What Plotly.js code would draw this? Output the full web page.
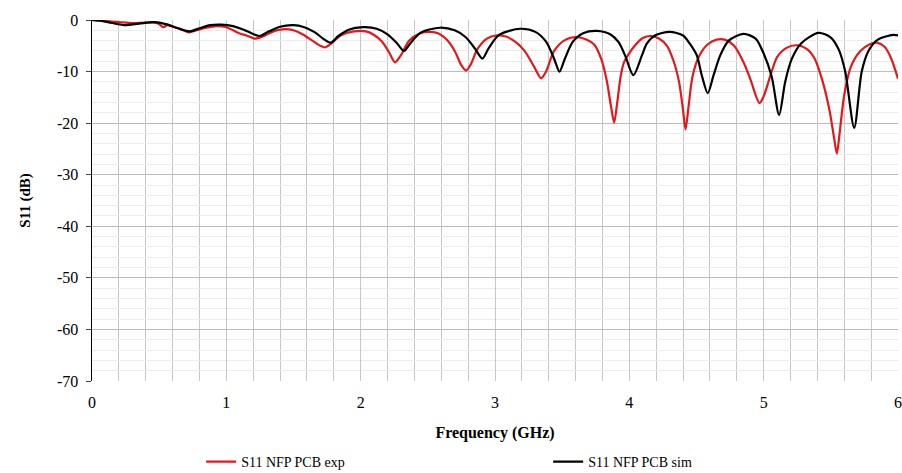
<!DOCTYPE html>
<html>
<head>
<meta charset="utf-8">
<script src="https://cdn.plot.ly/plotly-3.0.1.min.js"></script>
<style>html,body{margin:0;padding:0;background:#fff;}#chart{width:902px;height:473px;}</style>
</head>
<body>
<div id="chart"></div>
<script>
const expFreq = [0.00,0.10,0.20,0.30,0.40,0.47,0.50,0.53,0.56,0.62,0.68,0.72,0.78,0.85,0.93,1.00,1.05,1.10,1.15,1.21,1.27,1.35,1.42,1.50,1.57,1.64,1.70,1.735,1.78,1.85,1.95,2.04,2.10,2.16,2.21,2.256,2.30,2.36,2.44,2.52,2.58,2.64,2.70,2.75,2.785,2.82,2.87,2.94,3.01,3.08,3.15,3.22,3.29,3.343,3.38,3.44,3.52,3.61,3.68,3.74,3.79,3.83,3.862,3.887,3.91,3.935,3.96,3.99,4.04,4.10,4.16,4.22,4.28,4.33,4.37,4.40,4.418,4.44,4.47,4.52,4.58,4.65,4.72,4.78,4.85,4.90,4.969,5.00,5.05,5.10,5.17,5.247,5.32,5.38,5.44,5.49,5.525,5.545,5.565,5.60,5.65,5.72,5.79,5.843,5.90,5.95,6.00];
const expS11 = [0.0,-0.2,-0.4,-0.6,-0.5,-0.5,-0.8,-1.4,-1.0,-1.4,-2.0,-2.4,-2.0,-1.5,-1.2,-1.4,-2.0,-2.6,-3.0,-3.6,-3.2,-2.2,-1.8,-2.0,-2.8,-4.0,-5.0,-5.3,-4.6,-3.0,-2.2,-2.2,-2.9,-4.2,-6.2,-8.2,-6.8,-4.0,-2.6,-2.3,-2.6,-3.8,-6.0,-8.8,-9.8,-8.6,-5.6,-3.6,-3.0,-3.2,-4.2,-6.0,-9.0,-11.3,-10.0,-6.0,-3.9,-3.3,-3.8,-4.8,-7.5,-11.5,-16.5,-19.9,-16.0,-11.0,-8.2,-6.8,-5.0,-3.5,-3.1,-3.6,-5.0,-8.0,-12.0,-17.5,-21.2,-17.0,-11.0,-7.0,-4.8,-3.8,-3.9,-5.0,-8.2,-11.4,-16.1,-14.8,-10.8,-7.2,-5.4,-4.9,-5.6,-7.5,-12.0,-17.5,-23.0,-25.9,-22.0,-14.5,-9.0,-6.0,-4.7,-4.4,-5.2,-7.5,-11.4];

const simFreq = [0.00,0.10,0.243,0.35,0.467,0.55,0.64,0.727,0.80,0.88,0.963,1.05,1.12,1.19,1.249,1.31,1.40,1.50,1.58,1.66,1.72,1.777,1.83,1.91,2.02,2.12,2.20,2.27,2.323,2.37,2.45,2.59,2.70,2.78,2.85,2.906,2.95,3.03,3.187,3.30,3.38,3.44,3.48,3.52,3.58,3.66,3.758,3.86,3.92,3.969,4.03,4.093,4.13,4.19,4.30,4.40,4.45,4.503,4.54,4.584,4.626,4.676,4.74,4.85,4.94,5.00,5.06,5.115,5.16,5.21,5.28,5.408,5.50,5.56,5.607,5.674,5.73,5.78,5.85,5.965,6.00];
const simS11 = [0.0,-0.3,-1.0,-0.7,-0.4,-0.8,-1.6,-2.2,-1.6,-1.0,-0.9,-1.2,-1.8,-2.6,-3.1,-2.3,-1.3,-1.0,-1.4,-2.4,-3.6,-4.4,-3.2,-1.9,-1.4,-1.7,-2.8,-4.5,-6.0,-4.5,-2.4,-1.5,-2.0,-3.3,-5.5,-7.5,-5.6,-2.9,-1.7,-2.3,-4.2,-7.5,-10.0,-7.5,-4.2,-2.5,-2.1,-2.8,-4.3,-6.9,-10.7,-6.9,-4.6,-3.0,-2.3,-3.0,-4.6,-6.9,-10.8,-14.2,-10.8,-6.9,-4.0,-2.7,-3.6,-6.5,-11.0,-18.4,-12.0,-7.5,-4.5,-2.5,-3.4,-5.8,-10.0,-20.9,-10.0,-6.0,-3.8,-2.9,-3.0];

const xTicks = [0,1,2,3,4,5,6];
const yTicks = [0,-10,-20,-30,-40,-50,-60,-70];

const traces = [
  {x: expFreq, y: expS11, type: 'scatter', mode: 'lines', name: 'S11 NFP PCB exp',
   line: {color: '#e0191b', width: 2.2, shape: 'spline', smoothing: 0.8}},
  {x: simFreq, y: simS11, type: 'scatter', mode: 'lines', name: 'S11 NFP PCB sim',
   line: {color: '#000000', width: 2.2, shape: 'spline', smoothing: 0.8}}
];

const layout = {
  width: 902, height: 473,
  margin: {l: 92, r: 4, t: 20, b: 92, autoexpand: false},
  paper_bgcolor: '#ffffff', plot_bgcolor: '#ffffff',
  font: {family: 'Liberation Serif, Times New Roman, serif', color: '#000', size: 16},
  showlegend: true,
  legend: {orientation: 'h', xref: 'container', yref: 'container',
           x: 0.223, xanchor: 'left', y: 0.023, yanchor: 'middle',
           font: {size: 14}, traceorder: 'normal', itemwidth: 30, entrywidth: 302,
           bgcolor: 'rgba(0,0,0,0)'},
  xaxis: {
    range: [0, 6], tickvals: xTicks, ticktext: xTicks.map(String),
    showgrid: true, gridcolor: '#c6c6c6', gridwidth: 1,
    minor: {dtick: 0.2, showgrid: true, gridcolor: '#c6c6c6', gridwidth: 1},
    zeroline: false, showline: false, ticks: '', ticklabelstandoff: 10,
    title: {text: '<b>Frequency (GHz)</b>', font: {size: 16}, standoff: 16},
    tickfont: {size: 16}
  },
  yaxis: {
    range: [-70, 0], tickvals: yTicks, ticktext: yTicks.map(String),
    showgrid: true, gridcolor: '#bdbdbd', gridwidth: 1,
    minor: {dtick: 2, showgrid: true, gridcolor: '#ececec', gridwidth: 1},
    zeroline: false, showline: true, linecolor: '#000', linewidth: 1.5,
    ticks: 'outside', ticklen: 5, tickcolor: '#444', ticklabelstandoff: 4,
    title: {text: '<b>S11 (dB)</b>', font: {size: 15}, standoff: 22},
    tickfont: {size: 16}
  }
};

Plotly.newPlot('chart', traces, layout, {displayModeBar: false, staticPlot: true});
</script>
</body>
</html>
